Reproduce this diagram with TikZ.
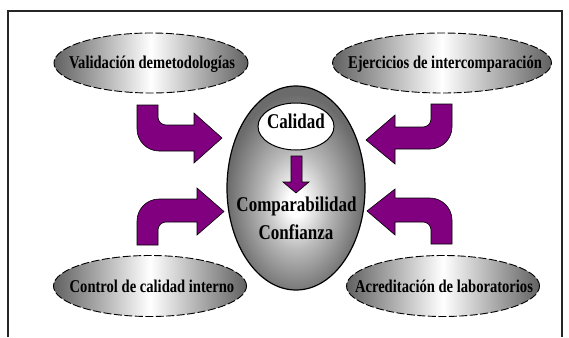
\documentclass[tikz,border=0pt]{standalone}
\usepackage{fontspec}
\setmainfont{Liberation Serif}[FakeStretch=0.81]
\usetikzlibrary{shapes.geometric}
\definecolor{arrowpurple}{HTML}{800080}
\pgfdeclareradialshading{eggshade}{\pgfpoint{0bp}{-4bp}}{color(0bp)=(white); color(3bp)=(white); color(12bp)=(black!27); color(20bp)=(black!46); color(25bp)=(black!58); color(50bp)=(black!60)}
\begin{document}
\begin{tikzpicture}[x=1pt,y=-1pt,
  sideell/.style={ellipse, draw=black, line width=0.9pt, dash pattern=on 8pt off 2.5pt,
    left color=black!62, right color=black!62, middle color=white, inner sep=0pt},
  sidetxt/.style={anchor=base, font=\fontsize{18}{20}\selectfont\bfseries, inner sep=0pt},
  bigtxt/.style={anchor=base, font=\fontsize{21}{24}\selectfont\bfseries, inner sep=0pt},
  blockarrow/.style={fill=arrowpurple, draw=black, line width=0.6pt, line join=miter},
  frameline/.style={draw=black!85, line width=1.1pt}]
\useasboundingbox (0,0) rectangle (569,337);
\fill[white] (0,0) rectangle (569,337);
\draw[frameline] (8,337) -- (8,11) -- (562,11) -- (562,337);

% side ellipses
\node[sideell, minimum width=194pt, minimum height=60pt] (vm) at (151,63) {};
\node[sidetxt] (vmt) at (152,68) {Validación demetodologías};
\node[sideell, minimum width=219pt, minimum height=60pt] (ei) at (442,63) {};
\node[sidetxt] (eit) at (445,68) {Ejercicios de intercomparación};
\node[sideell, minimum width=193pt, minimum height=61pt] (cc) at (150,286) {};
\node[sidetxt] (cct) at (152,292) {Control de calidad interno};
\node[sideell, minimum width=193pt, minimum height=61pt] (al) at (443,286) {};
\node[sidetxt] (alt) at (444,292) {Acreditación de laboratorios};

% central egg
\node[ellipse, draw=black, line width=1.2pt, shade, shading=eggshade,
  minimum width=138pt, minimum height=204pt, inner sep=0pt] (egg) at (296,188) {};
\node[ellipse, draw=black, fill=white, line width=1pt,
  minimum width=76pt, minimum height=47pt, inner sep=0pt] (cal) at (296,126.5) {};
\node[bigtxt] (calt) at (296,128) {Calidad};
\node[bigtxt] (comp) at (296.5,211) {Comparabilidad};
\node[bigtxt] (conf) at (296,239) {Confianza};

% down arrow
\draw[blockarrow] (291,156) -- (302,156) -- (302,182) -- (309,182) -- (296,193)
  -- (283,182) -- (291,182) -- cycle;

% top-left arrow
\draw[blockarrow] (137,105) -- (158,105) -- (158,117)
  .. controls (158,121.4) and (161.6,125) .. (166,125) -- (194,125) -- (194,113)
  -- (222,138) -- (194,163) -- (194,151) -- (159,151)
  .. controls (147,151) and (137,141) .. (137,129) -- cycle;
% bottom-left arrow
\draw[blockarrow] (137,245) -- (137,221)
  .. controls (137,208.9) and (146.9,199) .. (159,199) -- (197,199) -- (197,188)
  -- (224,211.5) -- (197,235) -- (197,222) -- (166,222)
  .. controls (161.6,222) and (158,225.6) .. (158,230) -- (158,245) -- cycle;
% top-right arrow
\draw[blockarrow] (452,104) -- (431,104) -- (431,119)
  .. controls (431,123.4) and (427.4,127) .. (423,127) -- (395,127) -- (395,115)
  -- (366,140) -- (395,164) -- (395,149) -- (430,149)
  .. controls (442,149) and (452,139) .. (452,127) -- cycle;
% bottom-right arrow
\draw[blockarrow] (452,244) -- (452,220)
  .. controls (452,208) and (442,198) .. (430,198) -- (395,198) -- (395,189)
  -- (367,211) -- (395,235) -- (395,222) -- (423,222)
  .. controls (427.4,222) and (431,225.6) .. (431,230) -- (431,244) -- cycle;
\end{tikzpicture}
\end{document}
